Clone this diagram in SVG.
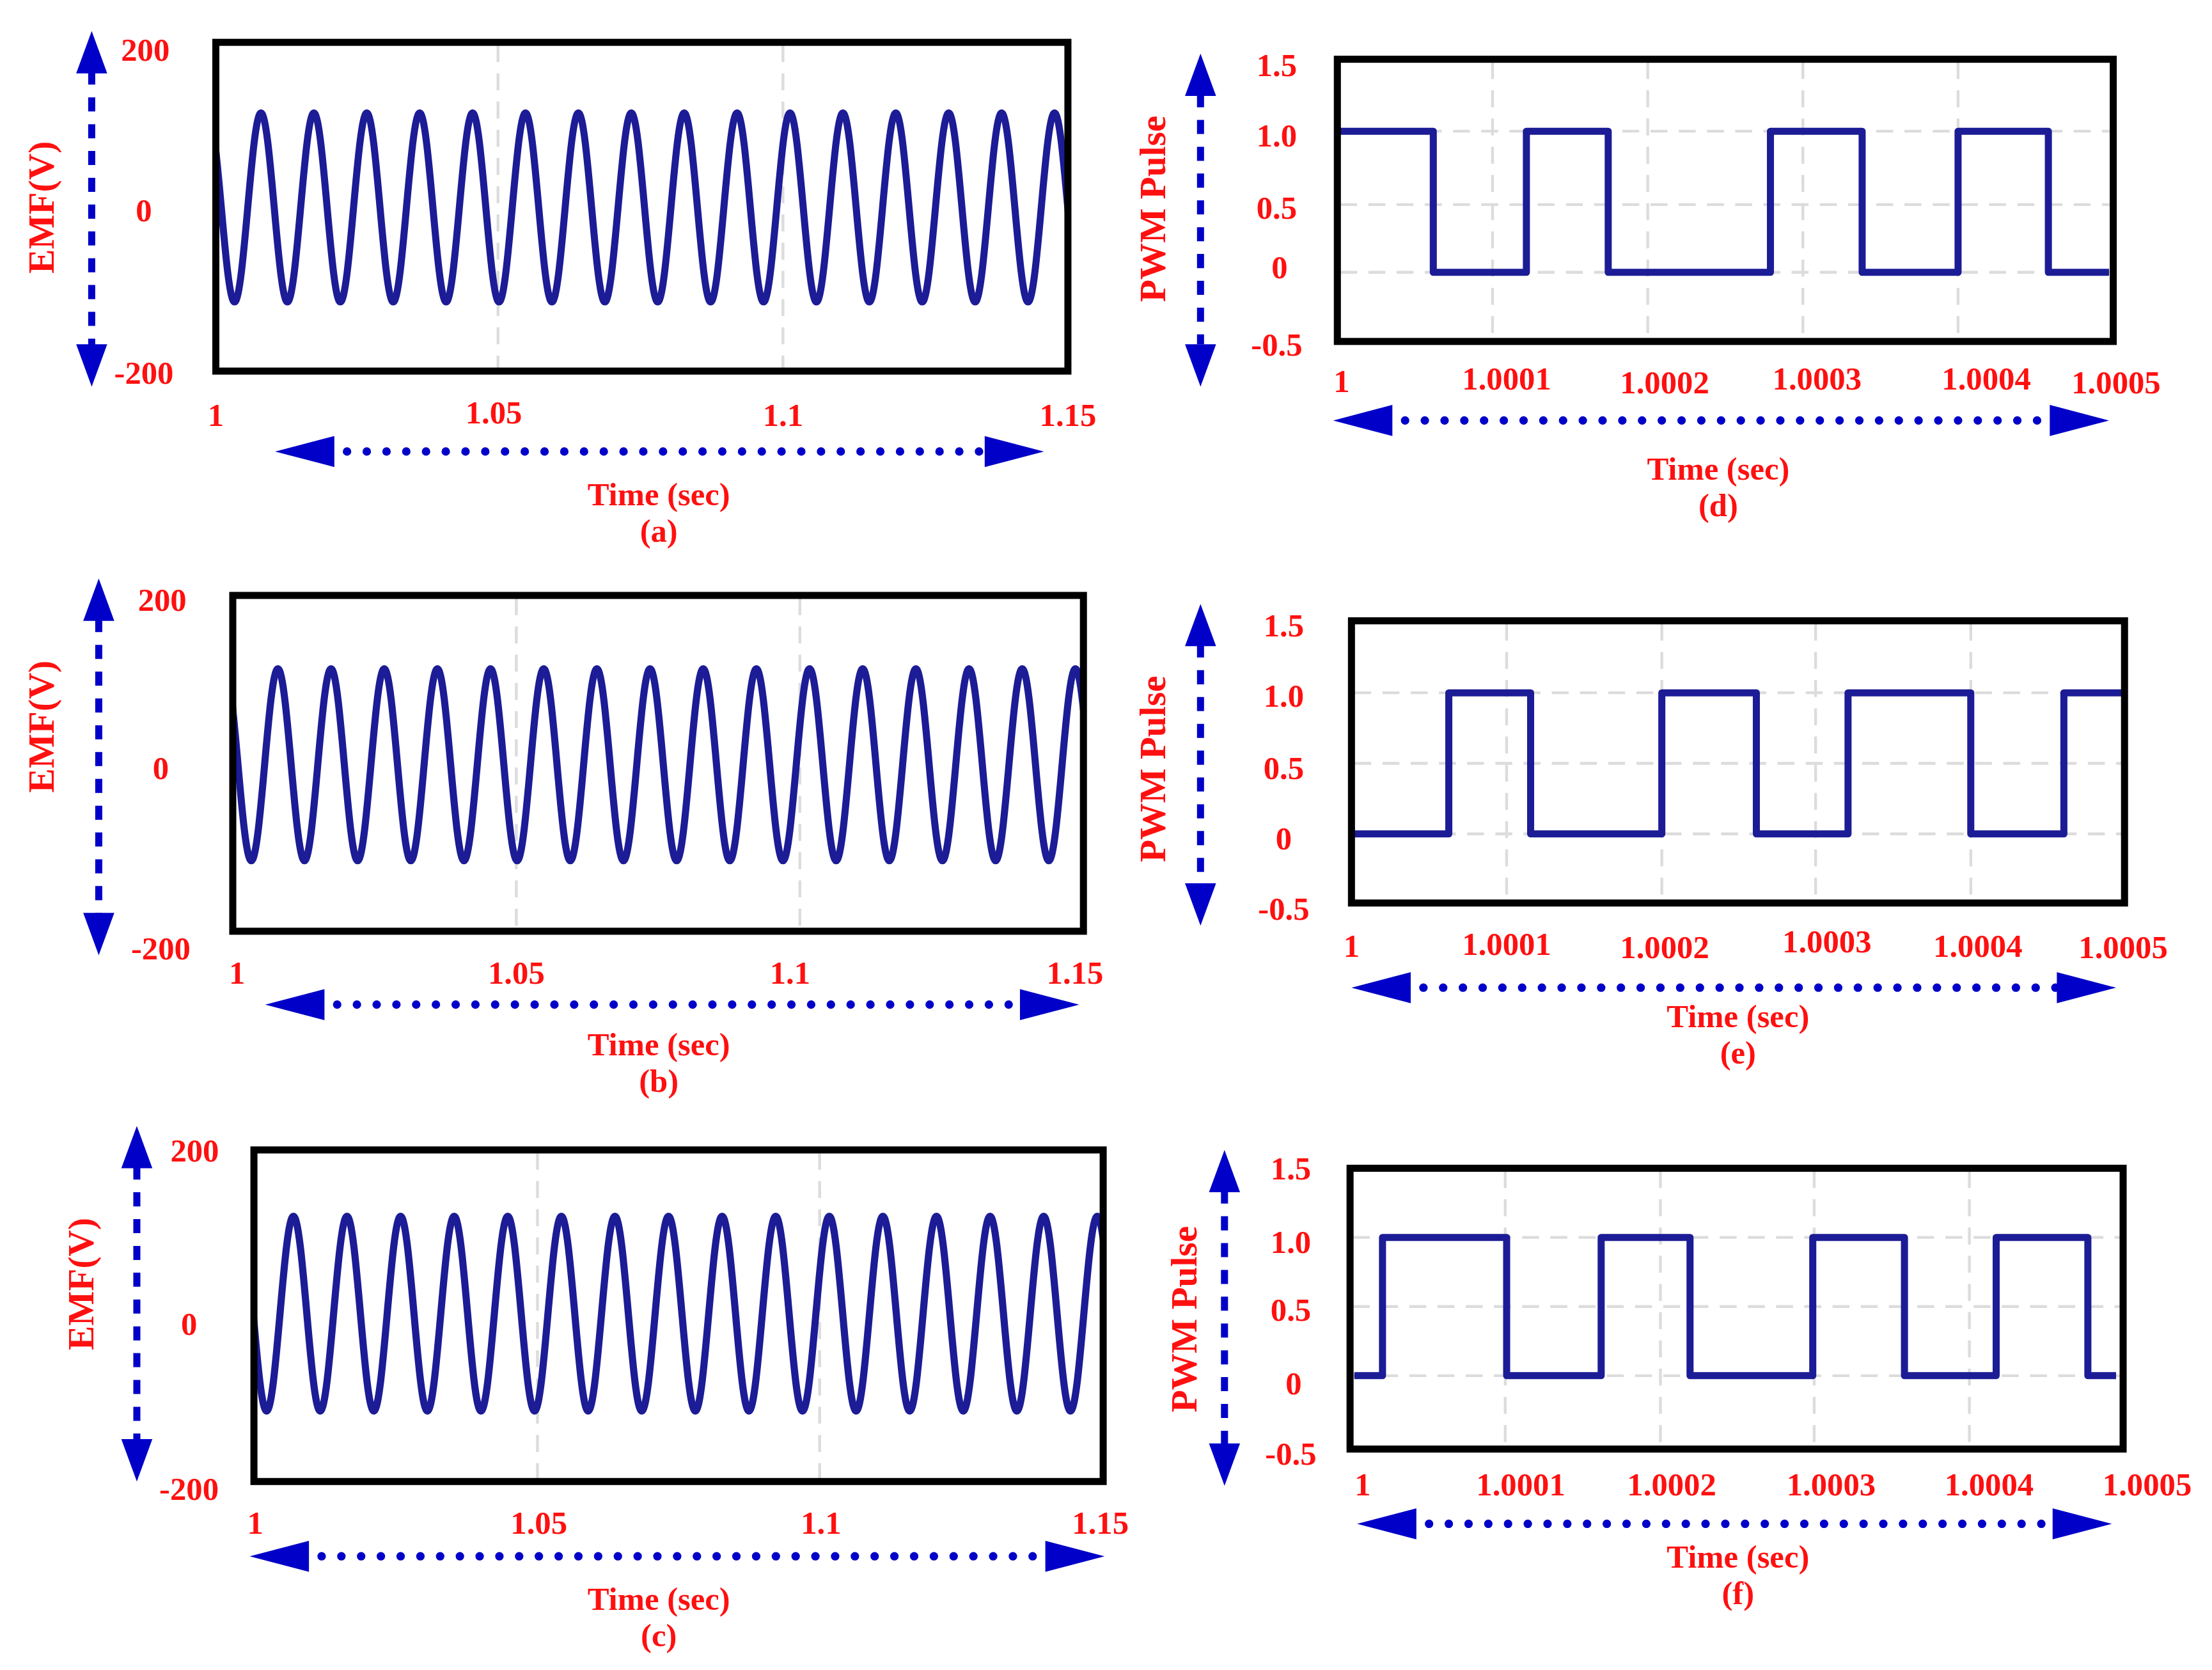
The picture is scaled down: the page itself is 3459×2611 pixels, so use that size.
<svg xmlns="http://www.w3.org/2000/svg" xmlns:xlink="http://www.w3.org/1999/xlink" width="3459" height="2611" viewBox="0 0 3459 2611">
<style>
.t{font-family:"Liberation Serif",serif;font-weight:bold;fill:#ff1010;font-size:23px;text-anchor:middle}
.lab{font-size:26px}
.box{fill:none;stroke:#000;stroke-width:5}
.grid{stroke:#dcdcdc;stroke-width:2;stroke-dasharray:12 8;fill:none}
.wave{fill:none;stroke:#1c1c96;stroke-width:5;stroke-linejoin:round}
.dot{stroke:#0000c8;stroke-width:6;stroke-linecap:round;stroke-dasharray:0 14;fill:none}
.dash{stroke:#0000c8;stroke-width:5;stroke-dasharray:10 9;fill:none}
.head{fill:#0000c8}
</style>
<defs>
<path id="sine" d="M0,0 c6.75,0 12,134 18.75,134 s12,-134 18.75,-134 s12,134 18.75,134 s12,-134 18.75,-134 s12,134 18.75,134 s12,-134 18.75,-134 s12,134 18.75,134 s12,-134 18.75,-134 s12,134 18.75,134 s12,-134 18.75,-134 s12,134 18.75,134 s12,-134 18.75,-134 s12,134 18.75,134 s12,-134 18.75,-134 s12,134 18.75,134 s12,-134 18.75,-134 s12,134 18.75,134 s12,-134 18.75,-134 s12,134 18.75,134 s12,-134 18.75,-134 s12,134 18.75,134 s12,-134 18.75,-134 s12,134 18.75,134 s12,-134 18.75,-134 s12,134 18.75,134 s12,-134 18.75,-134 s12,134 18.75,134 s12,-134 18.75,-134 s12,134 18.75,134 s12,-134 18.75,-134 s12,134 18.75,134 s12,-134 18.75,-134 s12,134 18.75,134 s12,-134 18.75,-134 s12,134 18.75,134"/>
<clipPath id="ca"><rect x="155" y="32" width="600" height="229"/></clipPath>
<clipPath id="cb"><rect x="167" y="424" width="599" height="234"/></clipPath>
<clipPath id="cc"><rect x="182" y="817" width="598" height="231"/></clipPath>
</defs>
<rect width="3459" height="2611" fill="#fff"/>
<g transform="scale(2.206)">
<g id="panel-a">
<line class="grid" x1="353" y1="32" x2="353" y2="261"/><line class="grid" x1="555" y1="32" x2="555" y2="261"/>
<g clip-path="url(#ca)"><use xlink:href="#sine" class="wave" transform="translate(147.5,80)"/></g>
<rect class="box" x="153" y="30" width="604" height="233"/>
<text class="t" x="103" y="43">200</text><text class="t" x="102" y="157">0</text><text class="t" x="102" y="272">-200</text>
<text class="t lab" transform="translate(38,147) rotate(-90)">EMF(V)</text>
<text class="t" x="153" y="302">1</text><text class="t" x="350" y="300">1.05</text><text class="t" x="555" y="302">1.1</text><text class="t" x="757" y="302">1.15</text>
<text class="t" x="467" y="358">Time (sec)</text><text class="t" x="467" y="384">(a)</text>
</g>
<g id="panel-b">
<line class="grid" x1="366" y1="424" x2="366" y2="658"/><line class="grid" x1="567" y1="424" x2="567" y2="658"/>
<g clip-path="url(#cb)"><use xlink:href="#sine" class="wave" transform="translate(159.3,474) scale(1.005,1.015)"/></g>
<rect class="box" x="165" y="422" width="603" height="238"/>
<text class="t" x="115" y="433">200</text><text class="t" x="114" y="552">0</text><text class="t" x="114" y="680">-200</text>
<text class="t lab" transform="translate(38,515) rotate(-90)">EMF(V)</text>
<text class="t" x="168" y="697">1</text><text class="t" x="366" y="697">1.05</text><text class="t" x="560" y="697">1.1</text><text class="t" x="762" y="697">1.15</text>
<text class="t" x="467" y="748">Time (sec)</text><text class="t" x="467" y="774">(b)</text>
</g>
<g id="panel-c">
<line class="grid" x1="381" y1="817" x2="381" y2="1048"/><line class="grid" x1="581" y1="817" x2="581" y2="1048"/>
<g clip-path="url(#cc)"><use xlink:href="#sine" class="wave" transform="translate(170,862) scale(1.013,1.03)"/></g>
<rect class="box" x="180" y="815" width="602" height="235"/>
<text class="t" x="138" y="823">200</text><text class="t" x="134" y="946">0</text><text class="t" x="134" y="1063">-200</text>
<text class="t lab" transform="translate(66,910) rotate(-90)">EMF(V)</text>
<text class="t" x="181" y="1087">1</text><text class="t" x="382" y="1087">1.05</text><text class="t" x="582" y="1087">1.1</text><text class="t" x="780" y="1087">1.15</text>
<text class="t" x="467" y="1141">Time (sec)</text><text class="t" x="467" y="1167">(c)</text>
</g>
<g id="panel-d">
<g class="grid"><line x1="1058" y1="44" x2="1058" y2="240"/><line x1="1168" y1="44" x2="1168" y2="240"/><line x1="1278" y1="44" x2="1278" y2="240"/><line x1="1388" y1="44" x2="1388" y2="240"/><line x1="950" y1="93" x2="1496" y2="93"/><line x1="950" y1="145" x2="1496" y2="145"/><line x1="950" y1="193" x2="1496" y2="193"/></g>
<path class="wave" d="M950,93 H1016 V193 H1082 V93 H1140 V193 H1255 V93 H1320 V193 H1388 V93 H1452 V193 H1495"/>
<rect class="box" x="948" y="42" width="550" height="200"/>
<text class="t" x="905" y="54">1.5</text><text class="t" x="905" y="104">1.0</text><text class="t" x="905" y="155">0.5</text><text class="t" x="907" y="197">0</text><text class="t" x="905" y="252">-0.5</text>
<text class="t lab" transform="translate(826,148) rotate(-90)">PWM Pulse</text>
<text class="t" x="951" y="278">1</text><text class="t" x="1068" y="276">1.0001</text><text class="t" x="1180" y="279">1.0002</text><text class="t" x="1288" y="276">1.0003</text><text class="t" x="1408" y="276">1.0004</text><text class="t" x="1500" y="279">1.0005</text>
<text class="t" x="1218" y="340">Time (sec)</text><text class="t" x="1218" y="366">(d)</text>
</g>
<g id="panel-e">
<g class="grid"><line x1="1068" y1="442" x2="1068" y2="638"/><line x1="1178" y1="442" x2="1178" y2="638"/><line x1="1287" y1="442" x2="1287" y2="638"/><line x1="1397" y1="442" x2="1397" y2="638"/><line x1="960" y1="491" x2="1504" y2="491"/><line x1="960" y1="541" x2="1504" y2="541"/><line x1="960" y1="591" x2="1504" y2="591"/></g>
<path class="wave" d="M960,591 H1027 V491 H1085 V591 H1178 V491 H1245 V591 H1310 V491 H1397 V591 H1463 V491 H1504"/>
<rect class="box" x="958" y="440" width="548" height="200"/>
<text class="t" x="910" y="451">1.5</text><text class="t" x="910" y="501">1.0</text><text class="t" x="910" y="552">0.5</text><text class="t" x="910" y="602">0</text><text class="t" x="910" y="652">-0.5</text>
<text class="t lab" transform="translate(826,545) rotate(-90)">PWM Pulse</text>
<text class="t" x="958" y="678">1</text><text class="t" x="1068" y="677">1.0001</text><text class="t" x="1180" y="679">1.0002</text><text class="t" x="1295" y="675">1.0003</text><text class="t" x="1402" y="678">1.0004</text><text class="t" x="1505" y="679">1.0005</text>
<text class="t" x="1232" y="728">Time (sec)</text><text class="t" x="1232" y="754">(e)</text>
</g>
<g id="panel-f">
<g class="grid"><line x1="1067" y1="830" x2="1067" y2="1025"/><line x1="1177" y1="830" x2="1177" y2="1025"/><line x1="1286" y1="830" x2="1286" y2="1025"/><line x1="1396" y1="830" x2="1396" y2="1025"/><line x1="959" y1="877" x2="1503" y2="877"/><line x1="959" y1="926" x2="1503" y2="926"/><line x1="959" y1="975" x2="1503" y2="975"/></g>
<path class="wave" d="M960,975 H980 V877 H1068 V975 H1135 V877 H1198 V975 H1285 V877 H1350 V975 H1415 V877 H1480 V975 H1500"/>
<rect class="box" x="957" y="828" width="548" height="199"/>
<text class="t" x="915" y="836">1.5</text><text class="t" x="915" y="888">1.0</text><text class="t" x="915" y="936">0.5</text><text class="t" x="917" y="988">0</text><text class="t" x="915" y="1038">-0.5</text>
<text class="t lab" transform="translate(848,935) rotate(-90)">PWM Pulse</text>
<text class="t" x="966" y="1060">1</text><text class="t" x="1078" y="1060">1.0001</text><text class="t" x="1185" y="1060">1.0002</text><text class="t" x="1298" y="1060">1.0003</text><text class="t" x="1410" y="1060">1.0004</text><text class="t" x="1522" y="1060">1.0005</text>
<text class="t" x="1232" y="1111">Time (sec)</text><text class="t" x="1232" y="1137">(f)</text>
</g>
<g id="connectors">
<line class="dash" x1="65" y1="50" x2="65" y2="245"/><polygon class="head" points="65,22 54,52 76,52"/><polygon class="head" points="65,274 54,244 76,244"/>
<line class="dash" x1="70" y1="438" x2="70" y2="648"/><polygon class="head" points="70,410 59,440 81,440"/><polygon class="head" points="70,677 59,647 81,647"/>
<line class="dash" x1="97" y1="826" x2="97" y2="1020"/><polygon class="head" points="97,798 86,828 108,828"/><polygon class="head" points="97,1050 86,1020 108,1020"/>
<line class="dash" x1="851" y1="66" x2="851" y2="244"/><polygon class="head" points="851,38 840,68 862,68"/><polygon class="head" points="851,274 840,244 862,244"/>
<line class="dash" x1="851" y1="456" x2="851" y2="627"/><polygon class="head" points="851,428 840,458 862,458"/><polygon class="head" points="851,656 840,626 862,626"/>
<line class="dash" x1="868" y1="843" x2="868" y2="1024"/><polygon class="head" points="868,815 857,845 879,845"/><polygon class="head" points="868,1053 857,1023 879,1023"/>
<line class="dot" x1="232" y1="320" x2="703" y2="320"/><polygon class="head" points="195,320 237,309 237,331"/><polygon class="head" points="740,320 698,309 698,331"/>
<line class="dot" x1="225" y1="712" x2="728" y2="712"/><polygon class="head" points="188,712 230,701 230,723"/><polygon class="head" points="765,712 723,701 723,723"/>
<line class="dot" x1="214" y1="1103" x2="746" y2="1103"/><polygon class="head" points="177,1103 219,1092 219,1114"/><polygon class="head" points="783,1103 741,1092 741,1114"/>
<line class="dot" x1="982" y1="298" x2="1458" y2="298"/><polygon class="head" points="945,298 987,287 987,309"/><polygon class="head" points="1495,298 1453,287 1453,309"/>
<line class="dot" x1="995" y1="700" x2="1463" y2="700"/><polygon class="head" points="958,700 1000,689 1000,711"/><polygon class="head" points="1500,700 1458,689 1458,711"/>
<line class="dot" x1="999" y1="1080" x2="1460" y2="1080"/><polygon class="head" points="962,1080 1004,1069 1004,1091"/><polygon class="head" points="1497,1080 1455,1069 1455,1091"/>
</g>
</g>
</svg>
